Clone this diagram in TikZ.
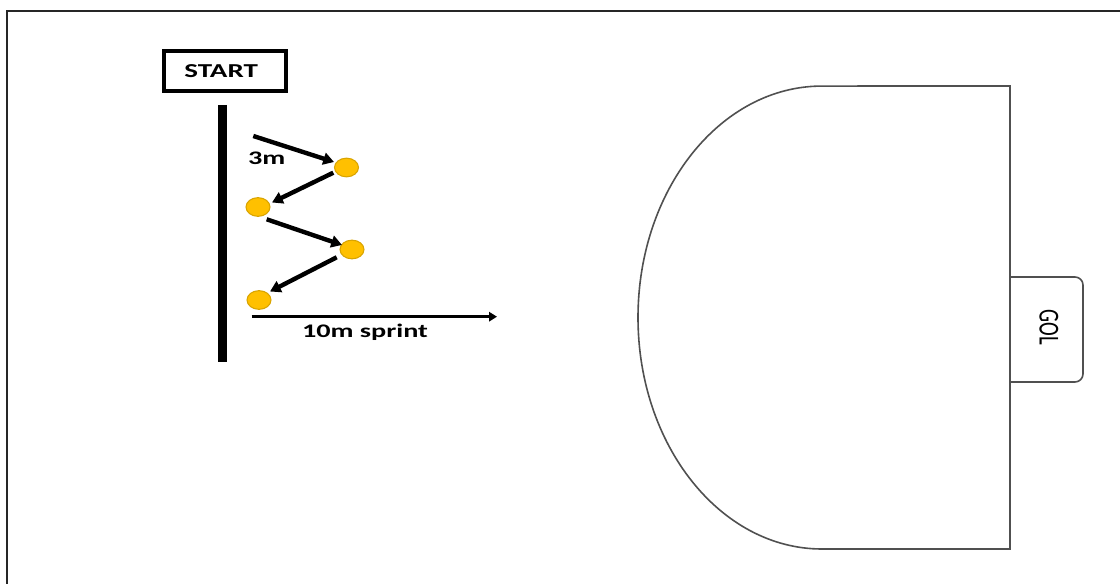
\documentclass[tikz,border=0pt]{standalone}
\usepackage{fontspec}
\setmainfont{Carlito}
\usetikzlibrary{arrows.meta,shapes.geometric}
\definecolor{cone}{HTML}{FFC000}
\definecolor{coneedge}{HTML}{D9A400}
\definecolor{fieldline}{HTML}{505050}
\newcommand{\wide}[1]{\scalebox{1.47}[1]{#1}}
\tikzset{
  conenode/.style={ellipse,fill=cone,draw=coneedge,line width=0.8pt,minimum width=18pt,minimum height=14pt,inner sep=0pt},
  runarrow/.style={line width=3.3pt,-{Triangle[length=8pt,width=9pt]}},
  sprintarrow/.style={line width=2.6pt,-{Triangle[length=6pt,width=7pt]}},
  lbl/.style={font=\fontsize{14.4}{16}\selectfont\bfseries,inner sep=0pt},
  fieldpath/.style={draw=fieldline,line width=1.2pt}
}
\begin{document}
\begin{tikzpicture}[x=0.75pt,y=-0.75pt]
\useasboundingbox (0,0) rectangle (1120,584);
% outer frame
\draw[line width=1.3pt,black!85] (7,590) -- (7,11) -- (1125,11);
% start box
\node[draw,line width=3pt,minimum width=91.5pt,minimum height=30pt,inner sep=0pt,font=\fontsize{14.8}{16}\selectfont\bfseries] (start) at (224.5,71) {\hspace*{-5pt}\wide{START}};
% start line
\coordinate (bartop) at (222.5,105);
\coordinate (barbot) at (222.5,362);
\draw[line width=6.75pt] (bartop) -- (barbot);
% cones
\node[conenode] (c1) at (346.5,167.5) {};
\node[conenode] (c2) at (258,207) {};
\node[conenode] (c3) at (352,249.5) {};
\node[conenode] (c4) at (259,300) {};
% arrow ends
\coordinate (a1s) at (253.3,136);
\coordinate (a1e) at (334,162);
\coordinate (a2s) at (333.3,172.7);
\coordinate (a2e) at (272,202.5);
\coordinate (a3s) at (266.7,219.3);
\coordinate (a3e) at (342,245);
\coordinate (a4s) at (336.7,257.3);
\coordinate (a4e) at (270,291.5);
\coordinate (ss) at (251.7,316.7);
\coordinate (se) at (497,316.7);
\draw[runarrow] (a1s) -- (a1e);
\draw[runarrow] (a2s) -- (a2e);
\draw[runarrow] (a3s) -- (a3e);
\draw[runarrow] (a4s) -- (a4e);
\draw[sprintarrow] (ss) -- (se);
% labels
\node[lbl,anchor=base] (l3m) at (266.7,165) {\wide{3m}};
\node[lbl,anchor=base] (lsprint) at (365,337.3) {\wide{10m sprint}};
% goal area
\draw[fieldpath] (1010,549) -- (822,549) arc[start angle=270,end angle=90,x radius=138pt,y radius=173.6pt] -- (1010,86) -- cycle;
\draw[fieldpath,rounded corners=6pt] (1010,277) -- (1083,277) -- (1083,382) -- (1010,382);
\node[rotate=-90,inner sep=0pt,font=\fontsize{15.5}{17}\selectfont] (gol) at (1049,327.5) {\scalebox{1}[1.4]{GOL}};
\end{tikzpicture}
\end{document}
